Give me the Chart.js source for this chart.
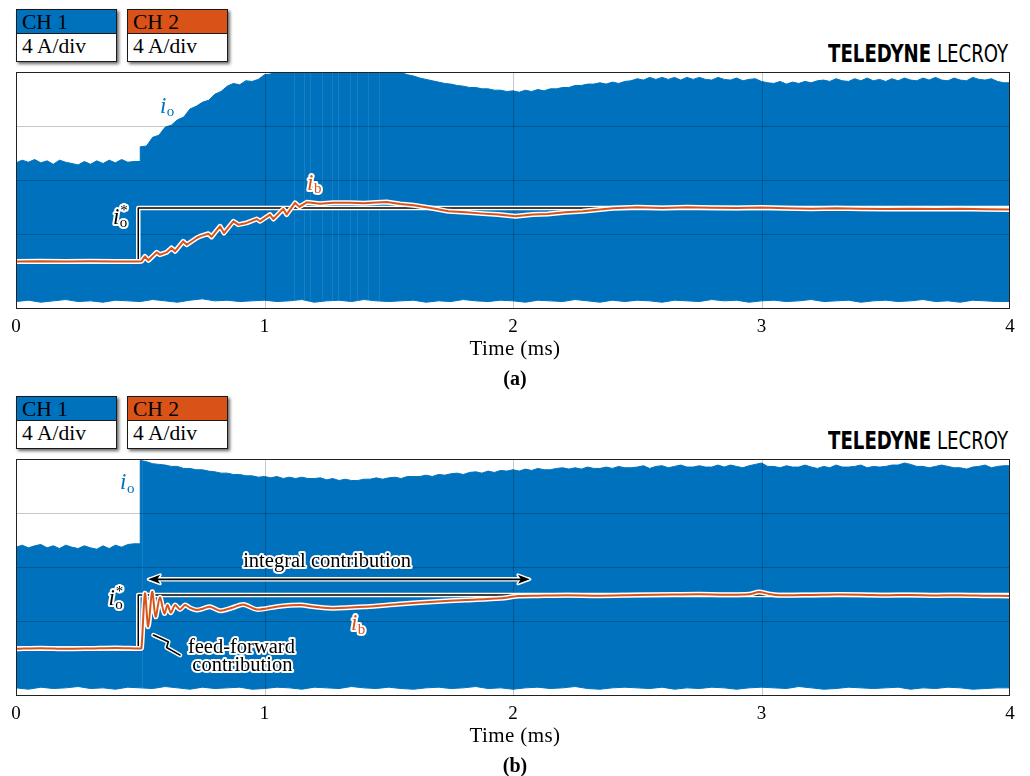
<!DOCTYPE html>
<html>
<head>
<meta charset="utf-8">
<title>Boost current step response</title>
<script src="https://cdn.jsdelivr.net/npm/chart.js@4.4.1/dist/chart.umd.min.js"></script>
<style>
  html, body { margin: 0; padding: 0; background: #fff; }
  body { width: 1030px; height: 776px; position: relative; overflow: hidden;
         font-family: "Liberation Serif", "Times New Roman", serif; color: #000; }
  canvas { position: absolute; left: 0; }
  .ch { position: absolute; width: 101px; height: 53px; box-sizing: border-box;
        border: 1px solid #1a1a1a; background: #fff; box-shadow: 2px 2px 3px rgba(0,0,0,0.6); }
  .ch .hd { height: 23px; border-bottom: 1px solid #1a1a1a; font-size: 21.5px; line-height: 24px; padding-left: 5px; }
  .ch .bd { font-size: 21.5px; line-height: 24px; padding-left: 5px; }
  .logo { position: absolute; right: 22px; font-family: "Liberation Sans Narrow", "DejaVu Sans Condensed", "Liberation Sans", sans-serif;
          font-size: 25px; line-height: 25px; white-space: nowrap; transform-origin: right center; }
  .logo b { font-weight: 700; }
  .logo span { font-weight: 400; }
  .cap { position: absolute; left: 0; width: 1030px; text-align: center; }
  .xlab { font-size: 21px; line-height: 21px; letter-spacing: 0.4px; }
  .plab { font-size: 20px; line-height: 20px; font-weight: 700; }
</style>
</head>
<body>

<!-- panel (a) -->
<div class="ch" style="left:16px;top:9px"><div class="hd" style="background:#0072BD">CH 1</div><div class="bd">4 A/div</div></div>
<div class="ch" style="left:127px;top:9px"><div class="hd" style="background:#D95319">CH 2</div><div class="bd">4 A/div</div></div>
<div class="logo" style="top:41px"><b>TELEDYNE</b> <span>LECROY</span></div>
<canvas id="scopeA" width="1030" height="276" style="top:62px"></canvas>
<div class="cap xlab" style="top:338px">Time (ms)</div>
<div class="cap plab" style="top:368px">(a)</div>

<!-- panel (b) -->
<div class="ch" style="left:16px;top:396px"><div class="hd" style="background:#0072BD">CH 1</div><div class="bd">4 A/div</div></div>
<div class="ch" style="left:127px;top:396px"><div class="hd" style="background:#D95319">CH 2</div><div class="bd">4 A/div</div></div>
<div class="logo" style="top:428px"><b>TELEDYNE</b> <span>LECROY</span></div>
<canvas id="scopeB" width="1030" height="276" style="top:449px"></canvas>
<div class="cap xlab" style="top:725px">Time (ms)</div>
<div class="cap plab" style="top:755px">(b)</div>

<script>
// ---------------------------------------------------------------
// Captured waveforms (time in ms, current in A, 4 A/div)
// ---------------------------------------------------------------
const timeTicks = [0, 1, 2, 3, 4];
const ampTickLabels = { 0: '0' };
const divisionAmps = 4;

// CH1 (i_o) switching envelope: peak per 25 us slot, one row = 0.25 ms
const envSlotA = 0.025;
const loadStepSlot = 20;   // first slot after the load step
const ioPeakA = [
  9.25, 9.45, 9.3, 9.5, 9.25, 9.4, 9.15, 9.45, 9.3, 9.2,
  9.1, 9.35, 9.15, 9.4, 9.2, 9.45, 9.25, 9.5, 9.3, 9.35,
  10.45, 10.5, 11.15, 11.3, 11.9, 12.05, 12.45, 12.65, 13.25, 13.45,
  13.75, 13.9, 14.35, 14.55, 14.95, 15.15, 15.05, 15.35, 15.3, 15.45,
  15.8, 15.85, 16.5, 16.5, 16.5, 16.5, 16.5, 16.5, 16.5, 16.5,
  16.5, 16.5, 16.5, 16.5, 16.5, 16.5, 16.5, 16.5, 16.5, 16.5,
  16.5, 16.2, 15.95, 15.8, 15.7, 15.55, 15.45, 15.35, 15.25, 15.15,
  15.1, 15.0, 14.95, 14.85, 14.85, 14.75, 14.75, 14.65, 14.65, 14.55,
  14.6, 14.5, 14.65, 14.55, 14.7, 14.6, 14.75, 14.75, 14.85, 14.85,
  15.0, 15.0, 15.1, 15.1, 15.2, 15.1, 15.25, 15.15, 15.3, 15.35,
  15.5, 15.4, 15.6, 15.45, 15.6, 15.45, 15.6, 15.4, 15.6, 15.45,
  15.6, 15.45, 15.4, 15.6, 15.45, 15.4, 15.55, 15.35, 15.45, 15.5,
  15.3, 15.2, 15.15, 15.3, 15.1, 15.25, 15.15, 15.3, 15.2, 15.35,
  15.4, 15.3, 15.5, 15.35, 15.3, 15.5, 15.35, 15.55, 15.35, 15.45,
  15.3, 15.5, 15.35, 15.55, 15.4, 15.35, 15.55, 15.4, 15.6, 15.4,
  15.35, 15.55, 15.4, 15.35, 15.6, 15.45, 15.4, 15.5, 15.3, 15.2
];
const ioPeakB = [
  9.45, 9.6, 9.4, 9.55, 9.65, 9.4, 9.55, 9.35, 9.6, 9.45,
  9.35, 9.55, 9.4, 9.3, 9.55, 9.35, 9.6, 9.45, 9.65, 9.7,
  15.9, 15.8, 15.65, 15.6, 15.55, 15.45, 15.45, 15.3, 15.3, 15.2,
  15.2, 15.1, 15.05, 14.95, 14.95, 14.85, 14.85, 14.75, 14.75, 14.65,
  14.7, 14.6, 14.7, 14.55, 14.65, 14.55, 14.65, 14.55, 14.55, 14.6,
  14.45, 14.55, 14.4, 14.5, 14.4, 14.4, 14.5, 14.5, 14.6, 14.5,
  14.6, 14.65, 14.55, 14.7, 14.7, 14.7, 14.8, 14.7, 14.85, 14.8,
  14.9, 14.95, 14.85, 15.0, 15.05, 14.95, 15.1, 15.0, 15.15, 15.1,
  15.2, 15.1, 15.25, 15.15, 15.3, 15.2, 15.2, 15.3, 15.35, 15.25,
  15.35, 15.25, 15.4, 15.3, 15.3, 15.4, 15.3, 15.45, 15.35, 15.35,
  15.4, 15.5, 15.3, 15.45, 15.5, 15.35, 15.45, 15.55, 15.4, 15.4,
  15.5, 15.4, 15.4, 15.55, 15.4, 15.55, 15.45, 15.35, 15.5, 15.6,
  15.7, 15.45, 15.45, 15.35, 15.5, 15.4, 15.4, 15.55, 15.4, 15.3,
  15.45, 15.35, 15.55, 15.4, 15.4, 15.45, 15.55, 15.35, 15.45, 15.4,
  15.45, 15.55, 15.55, 15.7, 15.6, 15.45, 15.45, 15.35, 15.45, 15.55,
  15.45, 15.35, 15.35, 15.25, 15.4, 15.45, 15.55, 15.35, 15.45, 15.5
];

// CH1 valley envelope: one value per 50 us slot, one row = 0.5 ms
const envSlotB = 0.05;
const ioValleyA = [
  -1.05, -0.95, -1.1, -1.0, -0.9, -1.05, -1.0, -1.1, -0.95, -1.0,
  -1.05, -0.9, -1.0, -1.1, -0.95, -0.85, -1.0, -0.95, -1.05, -1.0,
  -0.95, -1.05, -1.0, -0.9, -1.1, -1.0, -0.95, -1.05, -0.9, -1.0,
  -1.05, -1.0, -0.95, -1.1, -1.0, -1.05, -0.9, -1.0, -1.05, -0.95,
  -1.0, -1.1, -0.95, -1.0, -1.05, -0.9, -1.0, -1.1, -0.95, -1.05,
  -0.95, -1.0, -1.1, -0.95, -1.0, -1.05, -0.9, -1.0, -0.95, -1.1,
  -1.0, -0.95, -1.05, -1.0, -0.9, -1.05, -1.0, -0.95, -1.1, -1.0,
  -0.95, -1.05, -1.0, -0.9, -1.05, -1.0, -1.1, -0.95, -1.0, -1.05
];
const ioValleyB = [
  -1.0, -1.1, -0.95, -1.05, -1.0, -0.9, -1.05, -1.0, -1.1, -0.95,
  -1.0, -1.05, -0.9, -1.0, -1.1, -0.95, -1.05, -1.0, -0.95, -1.1,
  -1.05, -0.95, -1.0, -1.1, -0.95, -1.0, -1.05, -0.9, -1.0, -1.05,
  -0.95, -1.05, -1.1, -1.0, -0.95, -1.05, -1.0, -0.9, -1.05, -1.0,
  -1.1, -1.0, -0.95, -1.05, -1.0, -0.9, -1.05, -1.1, -1.0, -0.95,
  -1.0, -1.05, -0.95, -1.1, -1.0, -1.05, -0.95, -1.0, -1.1, -1.0,
  -0.95, -1.0, -1.05, -0.9, -1.0, -1.1, -1.05, -0.95, -1.0, -1.05,
  -1.0, -0.95, -1.1, -1.0, -1.05, -0.95, -1.0, -1.1, -1.05, -1.0
];

// narrow switching gaps visible inside the envelope
const gapTimesA = [1.118, 1.16, 1.185, 1.232, 1.27, 1.296, 1.345, 1.372, 1.418, 1.46];
const gapTimesB = [0.506];

// CH2: boost inductor current i_b
const ibTimeA = [0, 0.1, 0.2, 0.3, 0.4, 0.49, 0.506, 0.519, 0.533, 0.566, 0.579, 0.606,
  0.626, 0.64, 0.673, 0.687, 0.727, 0.74, 0.774, 0.787, 0.821, 0.837, 0.875, 0.895,
  0.928, 0.969, 0.982, 1.022, 1.036, 1.076, 1.089, 1.123, 1.14, 1.17, 1.223, 1.277,
  1.344, 1.4, 1.45, 1.492, 1.546, 1.6, 1.67, 1.74, 1.81, 1.88, 1.94, 2.01,
  2.08, 2.14, 2.21, 2.28, 2.35, 2.4, 2.5, 2.6, 2.7, 2.8, 2.9, 3.0,
  3.1, 3.2, 3.3, 3.4, 3.5, 3.6, 3.7, 3.8, 3.9, 4.0];
const ibValueA = [1.93, 1.95, 1.92, 1.94, 1.93, 1.93, 1.95, 2.3, 2.01, 2.6, 2.43, 2.6,
  2.93, 2.68, 3.42, 3.17, 3.67, 3.79, 3.99, 3.75, 4.54, 4.04, 4.91, 4.66,
  4.79, 5.08, 4.91, 5.41, 5.08, 5.83, 5.41, 6.28, 5.98, 6.32, 6.22, 6.28,
  6.28, 6.25, 6.3, 6.35, 6.2, 6.1, 5.9, 5.65, 5.58, 5.48, 5.41, 5.28,
  5.41, 5.46, 5.58, 5.65, 5.78, 5.88, 5.95, 5.9, 5.95, 5.92, 5.9, 5.93,
  5.88, 5.85, 5.88, 5.85, 5.82, 5.85, 5.82, 5.85, 5.8, 5.78];

const ibTimeB = [0, 0.1, 0.2, 0.3, 0.4, 0.5, 0.505, 0.519, 0.532, 0.548, 0.562, 0.579,
  0.597, 0.61, 0.623, 0.64, 0.66, 0.68, 0.7, 0.727, 0.755, 0.781, 0.821, 0.87,
  0.915, 0.969, 1.049, 1.143, 1.21, 1.28, 1.41, 1.545, 1.68, 1.81, 1.95, 2.02,
  2.1, 2.22, 2.35, 2.5, 2.65, 2.75, 2.85, 2.95, 2.99, 3.03, 3.07, 3.2,
  3.3, 3.4, 3.5, 3.6, 3.7, 3.8, 3.9, 4.0];
const ibValueB = [1.9, 1.95, 1.9, 1.93, 1.97, 1.93, 1.95, 6.02, 3.54, 6.14, 4.28, 5.72,
  4.53, 5.15, 4.58, 5.15, 4.83, 5.15, 4.95, 4.78, 4.9, 5.03, 4.73, 4.95,
  5.2, 4.83, 5.03, 5.15, 5.0, 4.91, 5.03, 5.23, 5.4, 5.52, 5.65, 5.82,
  5.85, 5.88, 5.85, 5.9, 5.93, 5.95, 5.92, 5.95, 6.12, 5.98, 5.88, 5.9,
  5.93, 5.92, 5.88, 5.9, 5.87, 5.88, 5.85, 5.83];

// output current reference i_o* (step at ~0.49 ms)
const refTime = [0, 0.492, 0.492, 4];
const refValue = [1.93, 1.93, 5.9, 5.9];

// ---------------------------------------------------------------
const BLUE = '#0072BD';
const ORANGE = '#D95319';
const SERIF = '"Liberation Serif", "Times New Roman", serif';

// slot values -> points; the slot after a hard edge starts with a vertical jump
function slots(values, dt, edgeSlot) {
  const pts = [];
  values.forEach((v, i) => {
    if (i === edgeSlot && i > 0) pts.push({ x: i * dt, y: values[i - 1] });
    pts.push({ x: i * dt, y: v });
  });
  pts.push({ x: values.length * dt, y: values[values.length - 1] });
  return pts;
}
function pairs(ts, vs) { return ts.map((t, i) => ({ x: t, y: vs[i] })); }

function haloStroke(ctx, pathFn, color, w, haloW) {
  ctx.strokeStyle = '#fff'; ctx.lineWidth = haloW; pathFn(); ctx.stroke();
  ctx.strokeStyle = color; ctx.lineWidth = w; pathFn(); ctx.stroke();
}

function mathSymbol(ctx, px, py, sub, star, color, halo) {
  const parts = [];
  ctx.font = 'italic 23px ' + SERIF;
  const wi = ctx.measureText('i').width;
  parts.push({ t: 'i', f: 'italic 23px ' + SERIF, x: px, y: py });
  parts.push({ t: sub, f: '15px ' + SERIF, x: px + wi + 0.5, y: py + 3.5 });
  if (star) parts.push({ t: '*', f: '15px ' + SERIF, x: px + wi + 1, y: py - 9 });
  ctx.textAlign = 'left'; ctx.textBaseline = 'alphabetic';
  if (halo) {
    ctx.strokeStyle = '#fff'; ctx.lineWidth = 4; ctx.lineJoin = 'round';
    parts.forEach(p => { ctx.font = p.f; ctx.strokeText(p.t, p.x, p.y); });
  }
  ctx.fillStyle = color;
  parts.forEach(p => { ctx.font = p.f; ctx.fillText(p.t, p.x, p.y); });
}

function arrowHead(ctx, tx, ty, dir) {
  const L = 12, w = 4.5;
  ctx.beginPath();
  ctx.moveTo(tx, ty);
  ctx.lineTo(tx - dir * L, ty - w);
  ctx.lineTo(tx - dir * L * 0.75, ty);
  ctx.lineTo(tx - dir * L, ty + w);
  ctx.closePath();
}

const scopePlugin = {
  id: 'scope',
  afterDatasetDraw(chart, args, opts) {
    if (args.index !== 4) return;
    const { ctx, chartArea: a, scales: { x, y } } = chart;
    ctx.save();
    ctx.beginPath(); ctx.rect(a.left, a.top, a.right - a.left, a.bottom - a.top); ctx.clip();
    ctx.lineWidth = 1;
    ctx.strokeStyle = 'rgba(255,255,255,0.09)';
    (opts.gaps || []).forEach(t => {
      const px = Math.round(x.getPixelForValue(t)) + 0.5;
      ctx.beginPath(); ctx.moveTo(px, a.top); ctx.lineTo(px, a.bottom); ctx.stroke();
    });
    ctx.strokeStyle = 'rgba(0,0,0,0.22)';
    x.ticks.forEach(tk => {
      if (tk.value <= x.min || tk.value >= x.max) return;
      const px = Math.round(x.getPixelForValue(tk.value)) + 0.5;
      ctx.beginPath(); ctx.moveTo(px, a.top); ctx.lineTo(px, a.bottom); ctx.stroke();
    });
    y.ticks.forEach(tk => {
      if (tk.value <= y.min || tk.value >= y.max) return;
      const py = Math.round(y.getPixelForValue(tk.value)) + 0.5;
      ctx.beginPath(); ctx.moveTo(a.left, py); ctx.lineTo(a.right, py); ctx.stroke();
    });
    ctx.restore();
  },
  afterDatasetsDraw(chart, args, opts) {
    const { ctx, scales: { x, y } } = chart;
    const X = t => x.getPixelForValue(t), Y = v => y.getPixelForValue(v);
    ctx.save();
    ctx.lineJoin = 'round'; ctx.lineCap = 'round';

    (opts.arrows || []).forEach(ar => {
      const x0 = X(ar.from), x1 = X(ar.to), py = Y(ar.amp);
      ctx.strokeStyle = '#fff'; ctx.lineWidth = 4.5;
      ctx.beginPath(); ctx.moveTo(x0 + 2, py); ctx.lineTo(x1 - 2, py); ctx.stroke();
      ctx.lineWidth = 3;
      arrowHead(ctx, x0, py, -1); ctx.stroke();
      arrowHead(ctx, x1, py, 1); ctx.stroke();
      ctx.strokeStyle = '#000'; ctx.lineWidth = 1.6;
      ctx.beginPath(); ctx.moveTo(x0 + 8, py); ctx.lineTo(x1 - 8, py); ctx.stroke();
      ctx.fillStyle = '#000';
      arrowHead(ctx, x0, py, -1); ctx.fill();
      arrowHead(ctx, x1, py, 1); ctx.fill();
    });

    (opts.leaders || []).forEach(ld => {
      const path = () => {
        ctx.beginPath();
        ld.forEach((p, i) => { const px = X(p[0]), py = Y(p[1]); i ? ctx.lineTo(px, py) : ctx.moveTo(px, py); });
      };
      haloStroke(ctx, path, '#000', 1.6, 4.5);
    });

    (opts.texts || []).forEach(tx => {
      ctx.font = '20.5px ' + SERIF; ctx.textAlign = 'center'; ctx.textBaseline = 'alphabetic';
      ctx.strokeStyle = '#fff'; ctx.lineWidth = 4; ctx.lineJoin = 'round';
      ctx.strokeText(tx.text, X(tx.t), Y(tx.amp));
      ctx.fillStyle = '#000';
      ctx.fillText(tx.text, X(tx.t), Y(tx.amp));
    });

    (opts.symbols || []).forEach(s => mathSymbol(ctx, X(s.t), Y(s.amp), s.sub, s.star, s.color, s.halo));
    ctx.restore();
  },
  afterDraw(chart) {
    const { ctx, chartArea: a } = chart;
    ctx.save();
    ctx.strokeStyle = '#222'; ctx.lineWidth = 1;
    ctx.strokeRect(a.left + 0.5, a.top + 0.5, a.right - a.left - 1, a.bottom - a.top);
    ctx.restore();
  }
};

function line(points, color, width, tension) {
  return { data: points, borderColor: color, borderWidth: width, pointRadius: 0,
           fill: false, tension: tension || 0, clip: 0, borderJoinStyle: 'round', borderCapStyle: 'round' };
}

function buildScope(id, peak, valley, ibT, ibV, ibTension, notes) {
  const ib = pairs(ibT, ibV);
  const ref = pairs(refTime, refValue);
  return new Chart(document.getElementById(id), {
    type: 'line',
    data: {
      datasets: [
        line(ib, ORANGE, 2, ibTension),
        line(ib, '#fff', 5, ibTension),
        line(ref, '#000', 1.5),
        line(ref, '#fff', 4.5),
        { data: slots(peak, envSlotA, loadStepSlot), fill: '+1', backgroundColor: BLUE,
          borderColor: BLUE, borderWidth: 1, pointRadius: 0, clip: 0, tension: 0 },
        { data: slots(valley, envSlotB, -1), fill: false,
          borderColor: BLUE, borderWidth: 1, pointRadius: 0, clip: 0, tension: 0 }
      ]
    },
    options: {
      responsive: false,
      animation: false,
      events: [],
      layout: { padding: { top: 10, right: 20, left: 0, bottom: 0 } },
      plugins: { legend: { display: false }, tooltip: { enabled: false }, scope: notes },
      scales: {
        x: {
          type: 'linear', min: timeTicks[0], max: timeTicks[timeTicks.length - 1],
          afterBuildTicks: s => { s.ticks = timeTicks.map(v => ({ value: v })); },
          ticks: { font: { family: SERIF, size: 19 }, color: '#000', padding: 8, maxRotation: 0, autoSkip: false },
          grid: { display: false, drawTicks: false },
          border: { display: false },
          afterFit: s => { s.height = 30; s.paddingLeft = 0; s.paddingRight = 0; }
        },
        y: {
          type: 'linear', min: -1.53, max: 4 * divisionAmps,
          ticks: { stepSize: divisionAmps, font: { family: SERIF, size: 19 }, color: '#000', padding: 5,
                   autoSkip: false, callback: v => (ampTickLabels[v] !== undefined ? ampTickLabels[v] : '') },
          grid: { display: false, drawTicks: false },
          border: { display: false },
          afterFit: s => { s.width = 16; s.paddingTop = 0; s.paddingBottom = 0; }
        }
      }
    },
    plugins: [scopePlugin]
  });
}

buildScope('scopeA', ioPeakA, ioValleyA, ibTimeA, ibValueA, 0, {
  gaps: gapTimesA,
  symbols: [
    { t: 0.579, amp: 12.97, sub: 'o', star: false, color: BLUE, halo: false },
    { t: 0.39, amp: 4.71, sub: 'o', star: true, color: '#000', halo: true },
    { t: 1.171, amp: 7.26, sub: 'b', star: false, color: ORANGE, halo: true }
  ]
});

buildScope('scopeB', ioPeakB, ioValleyB, ibTimeB, ibValueB, 0.3, {
  gaps: gapTimesB,
  arrows: [{ from: 0.532, to: 2.068, amp: 7.06 }],
  leaders: [[[0.553, 2.92], [0.613, 2.42], [0.606, 2.0], [0.66, 1.43]]],
  texts: [
    { text: 'integral contribution', t: 1.252, amp: 8.0 },
    { text: 'feed-forward', t: 0.907, amp: 1.56 },
    { text: 'contribution', t: 0.911, amp: 0.25 }
  ],
  symbols: [
    { t: 0.4185, amp: 13.75, sub: 'o', star: false, color: BLUE, halo: false },
    { t: 0.372, amp: 5.15, sub: 'o', star: true, color: '#000', halo: true },
    { t: 1.348, amp: 3.29, sub: 'b', star: false, color: ORANGE, halo: true }
  ]
});

// squeeze the brand mark to its narrow width
document.querySelectorAll('.logo').forEach(el => {
  const w = el.getBoundingClientRect().width;
  el.style.transform = 'scaleX(' + (180 / w) + ')';
});
</script>
</body>
</html>
